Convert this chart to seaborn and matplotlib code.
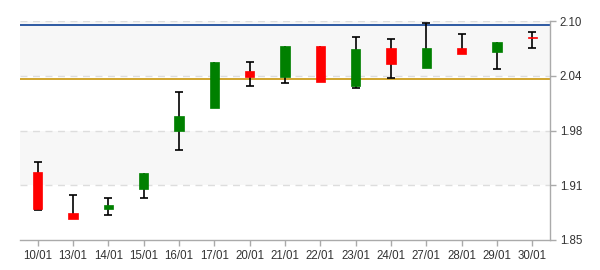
import numpy as np
import pandas as pd
import matplotlib
matplotlib.use("Agg")
import matplotlib.pyplot as plt
import seaborn as sns

dates = ["10/01", "13/01", "14/01", "15/01", "16/01", "17/01", "20/01", "21/01",
         "22/01", "23/01", "24/01", "27/01", "28/01", "29/01", "30/01"]
open_ = [1.9276, 1.8808, 1.8857, 1.9086, 1.9748, 2.0010, 2.0429, 2.0364,
         2.0715, 2.0261, 2.0692, 2.0467, 2.0692, 2.0650, 2.0814]
close = [1.8857, 1.8740, 1.8900, 1.9265, 1.9916, 2.0532, 2.0364, 2.0715,
         2.0307, 2.0680, 2.0513, 2.0692, 2.0627, 2.0760, 2.0802]
high = [1.9387, 1.9010, 1.8976, 1.9265, 2.0189, 2.0532, 2.0529, 2.0715,
        2.0715, 2.0814, 2.0791, 2.0974, 2.0852, 2.0760, 2.0871]
low = [1.8839, 1.8740, 1.8782, 1.8976, 1.9524, 2.0010, 2.0255, 2.0289,
       2.0307, 2.0232, 2.0346, 2.0467, 2.0627, 2.0449, 2.0688]
y_ticks = [1.85, 1.9125, 1.975, 2.0375, 2.10]
y_tick_labels = ["1.85", "1.91", "1.98", "2.04", "2.10"]
upper_line = 2.0954
lower_line = 2.0334

df = pd.DataFrame({"date": dates, "open": open_, "close": close, "high": high, "low": low})
df["x"] = np.arange(len(df))
df["up"] = df["close"] >= df["open"]
df["top"] = df[["open", "close"]].max(axis=1)
df["bottom"] = df[["open", "close"]].min(axis=1)
df["height"] = (df["close"] - df["open"]).abs().clip(lower=0.0012)
df["color"] = np.where(df["up"], "#008000", "#FF0000")

sns.set_style("white")
plt.rcParams["font.family"] = ["Liberation Sans", "DejaVu Sans"]

fig = plt.figure(figsize=(6, 2.7), dpi=100)
ax = fig.add_axes([20 / 600, 30 / 270, 530 / 600, 219 / 270])

# alternating bands
for i in range(len(y_ticks) - 1):
    if i % 2 == 1:
        ax.axhspan(y_ticks[i], y_ticks[i + 1], color="#F7F7F7", zorder=0, lw=0)
for t in y_ticks[1:]:
    ax.axhline(t, color="#DDDDDD", lw=1, ls=(0, (5, 4)), zorder=1)

ax.axhline(upper_line, color="#0B3F94", lw=1.2, zorder=2)
ax.axhline(lower_line, color="#C8960C", lw=1.2, zorder=2)

# wicks
ax.vlines(df["x"], df["low"], df["high"], color="black", lw=1.2, zorder=3)
hi = df[df["high"] > df["top"] + 1e-6]
lo = df[df["low"] < df["bottom"] - 1e-6]
sns.scatterplot(x=hi["x"], y=hi["high"], marker="_", s=36, color="black",
                linewidth=1.2, ax=ax, zorder=3, legend=False)
sns.scatterplot(x=lo["x"], y=lo["low"], marker="_", s=36, color="black",
                linewidth=1.2, ax=ax, zorder=3, legend=False)

# bodies
ax.bar(df["x"], df["height"], bottom=df["bottom"], width=0.26, color=df["color"],
       edgecolor=df["color"], linewidth=0.5, zorder=4)

ax.set_xlim(-0.5, len(df) - 0.5)
ax.set_ylim(1.85, 2.10)
ax.set_xticks(df["x"])
ax.set_xticklabels(dates)
ax.set_xlabel("")
ax.set_ylabel("")
ax.yaxis.tick_right()
ax.set_yticks(y_ticks)
ax.set_yticklabels(y_tick_labels)

for s in ["top", "left"]:
    ax.spines[s].set_visible(False)
for s in ["bottom", "right"]:
    ax.spines[s].set_visible(True)
    ax.spines[s].set_color("#AAAAAA")
    ax.spines[s].set_linewidth(1)

ax.tick_params(axis="both", which="both", length=4, width=1, color="#AAAAAA",
               labelsize=8.3, labelcolor="#333333", pad=3)
ax.tick_params(axis="y", right=True, left=False, labelright=True, labelleft=False)
ax.tick_params(axis="x", bottom=True)

fig.savefig("out.png", dpi=100)
